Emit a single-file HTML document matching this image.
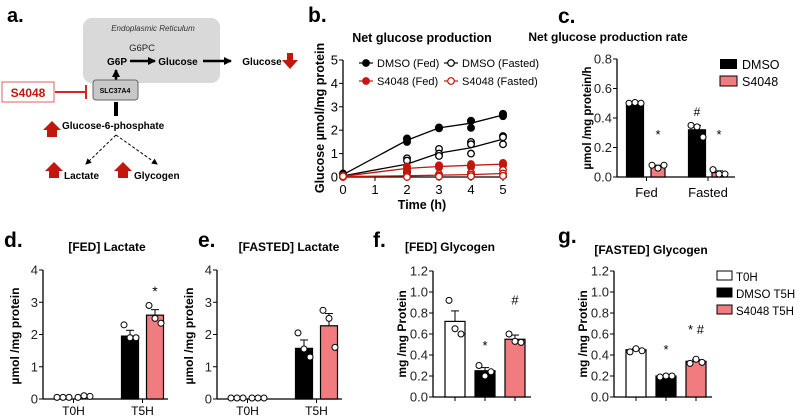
<!DOCTYPE html>
<html><head><meta charset="utf-8"><style>
body{margin:0;background:#fff}
svg{display:block;font-family:"Liberation Sans",sans-serif}
</style></head><body>
<svg id="fig" width="800" height="418" viewBox="0 0 800 418">
<defs>
<marker id="ah" markerUnits="userSpaceOnUse" markerWidth="8" markerHeight="8" refX="7" refY="4" orient="auto"><path d="M0,0 L8,4 L0,8 z" fill="#000"/></marker>
<marker id="ah2" markerUnits="userSpaceOnUse" markerWidth="6" markerHeight="6" refX="5" refY="3" orient="auto"><path d="M0,0 L6,3 L0,6 z" fill="#000"/></marker>
</defs>
<!-- panel a -->
<g>
<text x="7" y="22" font-size="20" font-weight="bold">a.</text>
<rect x="83" y="18" width="137" height="65" rx="9" fill="#d9d9d9"/>
<text x="153" y="31" font-size="8" font-style="italic" text-anchor="middle" fill="#333">Endoplasmic Reticulum</text>
<text x="142" y="51" font-size="9.5" text-anchor="middle" fill="#222">G6PC</text>
<text x="117" y="65" font-size="10" font-weight="bold" text-anchor="middle">G6P</text>
<line x1="130" y1="61" x2="155" y2="61" stroke="#000" stroke-width="2.5" marker-end="url(#ah)"/>
<text x="178" y="65" font-size="10" font-weight="bold" text-anchor="middle">Glucose</text>
<line x1="203" y1="61" x2="231" y2="61" stroke="#000" stroke-width="2.5" marker-end="url(#ah)"/>
<text x="262" y="65" font-size="10" font-weight="bold" text-anchor="middle">Glucose</text>
<path d="M287,53 h6 v7 h5 l-8,9 l-8,-9 h5z" fill="#c1170d"/>
<line x1="116" y1="80" x2="116" y2="70" stroke="#000" stroke-width="2.5" marker-end="url(#ah)"/>
<rect x="93" y="80" width="45" height="20" rx="3" fill="#c8c8c8" stroke="#666"/>
<text x="115" y="93" font-size="7" font-weight="bold" text-anchor="middle">SLC37A4</text>
<rect x="2" y="82" width="52" height="20" fill="#fff" stroke="#e06060"/>
<text x="28" y="97" font-size="12" font-weight="bold" text-anchor="middle" fill="#c1170d">S4048</text>
<line x1="55" y1="92" x2="86" y2="92" stroke="#d22" stroke-width="2"/>
<line x1="86" y1="85" x2="86" y2="99" stroke="#d22" stroke-width="2"/>
<line x1="116" y1="102" x2="116" y2="116" stroke="#000" stroke-width="4"/>
<path d="M43,130 l9,-9 l9,9 h-4 v7 h-10 v-7z" fill="#c1170d"/>
<text x="62" y="129" font-size="10" font-weight="bold">Glucose-6-phosphate</text>
<line x1="116" y1="135" x2="86" y2="164" stroke="#000" stroke-dasharray="3,2" marker-end="url(#ah2)"/>
<line x1="116" y1="135" x2="157" y2="164" stroke="#000" stroke-dasharray="3,2" marker-end="url(#ah2)"/>
<path d="M45,171 l9,-9 l9,9 h-4 v7 h-10 v-7z" fill="#c1170d"/>
<text x="64" y="179" font-size="10" font-weight="bold">Lactate</text>
<path d="M114,171 l9,-9 l9,9 h-4 v7 h-10 v-7z" fill="#c1170d"/>
<text x="134" y="179" font-size="10" font-weight="bold">Glycogen</text>
</g>
<g id="charts"></g>
</svg>
<script>
// panel b data
const bTimes=[0,2,3,4,5];
const bDmsoFed=[0.1,1.57,2.1,2.3,2.65];
const bDmsoFedPts=[[0.15,0.1,0.05],[1.65,1.6,1.5],[2.1,2.12,2.08],[2.4,2.4,2.1],[2.7,2.65,2.6]];
const bDmsoFast=[0.05,0.55,1.02,1.25,1.62];
const bDmsoFastPts=[[0.05,0.02,0.08],[0.8,0.7,0.2],[1.2,1.0,0.9],[1.5,1.4,1.0],[1.75,1.7,1.4]];
const bS48Fed=[0.03,0.37,0.45,0.5,0.55];
const bS48FedPts=[[0.03,0.05,0.02],[0.45,0.35,0.3],[0.5,0.45,0.4],[0.55,0.48,0.42],[0.6,0.55,0.5]];
const bS48Fast=[0.02,0.05,0.08,0.1,0.15];
const bS48FastPts=[[0.02,0.0,0.03],[0.08,0.03,0.0],[0.12,0.05,0.02],[0.18,0.1,0.03],[0.3,0.15,0.05]];
const bYTicks=[0,1,2,3,4,5];
const bXTicks=[0,1,2,3,4,5];
// panel c
const cCats=["Fed","Fasted"];
const cDmso=[0.5,0.32];const cDmsoErr=[0.005,0.03];const cDmsoPts=[[0.5,0.505,0.5],[0.35,0.34,0.27]];
const cS48=[0.07,0.03];const cS48Err=[0.01,0.012];const cS48Pts=[[0.08,0.06,0.08],[0.05,0.02,0.02]];
const cYTicks=[0,0.2,0.4,0.6,0.8];
// panel d
const dCats=["T0H","T5H"];
const dDmso=[0.05,1.95];const dDmsoErr=[0,0.18];const dDmsoPts=[[0.05,0.05,0.05],[2.3,1.9,1.9]];
const dS48=[0.07,2.6];const dS48Err=[0,0.17];const dS48Pts=[[0.05,0.1,0.08],[2.9,2.5,2.35]];
// panel e
const eDmso=[0.03,1.57];const eDmsoErr=[0,0.26];const eDmsoPts=[[0.03,0.03,0.03],[2.05,1.55,1.3]];
const eS48=[0.03,2.27];const eS48Err=[0,0.38];const eS48Pts=[[0.03,0.03,0.03],[2.75,2.5,1.6]];
const deYTicks=[0,1,2,3,4];
// panel f,g
const fgCats=["T0H","DMSO T5H","S4048 T5H"];
const fVals=[0.72,0.25,0.55];const fErr=[0.1,0.03,0.04];const fPts=[[0.92,0.65,0.6],[0.3,0.2,0.24],[0.6,0.53,0.52]];
const gVals=[0.45,0.2,0.34];const gErr=[0.01,0.005,0.015];const gPts=[[0.43,0.46,0.44],[0.19,0.2,0.2],[0.32,0.36,0.33]];
const fgYTicks=[0,0.2,0.4,0.6,0.8,1.0,1.2];

const NS="http://www.w3.org/2000/svg";
const root=document.getElementById('charts');
function el(tag,attrs,parent,txt){const e=document.createElementNS(NS,tag);for(const k in attrs)e.setAttribute(k,attrs[k]);if(txt!==undefined)e.textContent=txt;(parent||root).appendChild(e);return e;}
const PINK="#f07c80",RED="#c1170d";
const TICK=13;

function yAxis(g,x,y0,y1,vmax,ticks,fmt,xEnd){
  const sy=v=>y0-(v/vmax)*(y0-y1);
  el('line',{x1:x,y1:y0,x2:x,y2:y1,stroke:'#000','stroke-width':1.3},g);
  el('line',{x1:x,y1:y0,x2:xEnd,y2:y0,stroke:'#000','stroke-width':1.3},g);
  ticks.forEach(t=>{el('line',{x1:x-4,y1:sy(t),x2:x,y2:sy(t),stroke:'#000'},g);
    const tx=el('text',{x:x-5,y:sy(t)+4.5,'font-size':TICK,'text-anchor':'end',fill:'#222'},g,fmt(t));
    
    });
  return sy;
}
function pts(g,cx,vals,sy,fill,stroke,name){
  const offs=[-6,0,6];
  vals.forEach((v,i)=>{const c=el('circle',{cx:cx+offs[i],cy:sy(v),r:3,fill:fill,stroke:stroke,'stroke-width':1},g);
    
    });
}
function bar(g,cx,w,v,err,sy,fill,name){
  const r=el('rect',{x:cx-w/2,y:sy(v),width:w,height:sy(0)-sy(v),fill:fill,stroke:'#000','stroke-width':1.2},g);
  
  
  if(err>0){el('line',{x1:cx,y1:sy(v),x2:cx,y2:sy(v+err),stroke:'#000'},g);
    el('line',{x1:cx-4,y1:sy(v+err),x2:cx+4,y2:sy(v+err),stroke:'#000'},g);}
}
function label(g,x,y,t,size,bold,anchor,name,rot){
  const a={x:x,y:y,'font-size':size,'text-anchor':anchor||'middle'};if(bold)a['font-weight']='bold';
  if(rot)a.transform=`rotate(-90 ${x} ${y})`;
  const e=el('text',a,g,t);
  
  
  return e;
}

// ---- panel b
(function(){
  const g=el('g',{});
  
  
  label(g,308,22,'b.',21,true,'start','panel-b-label');
  label(g,422,42,'Net glucose production',12.5,true,'middle','panel-b-title');
  const x0=343,x5=503,y0=177,y5=60;
  const sx=t=>x0+t/5*(x5-x0);const sy=v=>y0-v/5*(y0-y5);
  el('line',{x1:x0,y1:y0,x2:x0,y2:y5,stroke:'#000','stroke-width':1.3},g);
  el('line',{x1:x0,y1:y0,x2:x5+4,y2:y0,stroke:'#000','stroke-width':1.3},g);
  bYTicks.forEach(t=>{el('line',{x1:x0-4,y1:sy(t),x2:x0,y2:sy(t),stroke:'#000'},g);
    const e=el('text',{x:x0-5,y:sy(t)+4.5,'font-size':TICK,'text-anchor':'end'},g,t);
    
    });
  bXTicks.forEach(t=>{el('line',{x1:sx(t),y1:y0,x2:sx(t),y2:y0+4,stroke:'#000'},g);
    const e=el('text',{x:sx(t),y:y0+17,'font-size':TICK,'text-anchor':'middle'},g,t);
    
    });
  label(g,422,209,'Time (h)',12.5,true,'middle','x-axis-title');
  label(g,324,118,'Glucose µmol/mg protein',12.5,true,'middle','y-axis-title',true);
  const series=[[bDmsoFed,bDmsoFedPts,'#000','#000','dmso-fed'],[bDmsoFast,bDmsoFastPts,'#000','#fff','dmso-fasted'],[bS48Fed,bS48FedPts,RED,RED,'s4048-fed'],[bS48Fast,bS48FastPts,RED,'#fff','s4048-fasted']];
  series.forEach(([m,p,c,f,n])=>{
    const l=el('polyline',{points:bTimes.map((t,i)=>sx(t)+','+sy(m[i])).join(' '),fill:'none',stroke:c,'stroke-width':1.3},g);
    
    
    p.forEach((arr,i)=>arr.forEach(v=>{const c2=el('circle',{cx:sx(bTimes[i]),cy:sy(v),r:3.3,fill:f,stroke:c,'stroke-width':1.3},g);
      
      }));
  });
  const leg=[[366,63,'#000','#000','DMSO (Fed)'],[366,81,RED,RED,'S4048 (Fed)'],[451,63,'#000','#fff','DMSO (Fasted)'],[451,81,RED,'#fff','S4048 (Fasted)']];
  leg.forEach(([x,y,c,f,t])=>{el('line',{x1:x-7,y1:y,x2:x+7,y2:y,stroke:c,'stroke-width':1.2},g);
    el('circle',{cx:x,cy:y,r:3.3,fill:f,stroke:c,'stroke-width':1.2},g);
    label(g,x+11,y+4,t,11,false,'start','legend-entry');});
})();

// ---- panel c
(function(){
  const g=el('g',{});
  
  
  label(g,558,23,'c.',21,true,'start','panel-c-label');
  label(g,608,41,'Net glucose production rate',12,true,'middle','panel-c-title');
  const sy=yAxis(g,617,177,59,0.8,cYTicks,t=>t.toFixed(1),735);
  label(g,591,118,'µmol /mg protein/h',11.5,true,'middle','y-axis-title',true);
  const cx=[[635,658],[697,719]];
  cCats.forEach((c,i)=>{
    bar(g,cx[i][0],17,cDmso[i],cDmsoErr[i],sy,'#000','bar-dmso-'+c.toLowerCase());
    pts(g,cx[i][0],cDmsoPts[i],sy,'#fff','#000','dmso-point');
    bar(g,cx[i][1],14,cS48[i],cS48Err[i],sy,PINK,'bar-s4048-'+c.toLowerCase());
    pts(g,cx[i][1],cS48Pts[i],sy,'#fff','#000','s4048-point');
    el('line',{x1:(cx[i][0]+cx[i][1])/2,y1:177,x2:(cx[i][0]+cx[i][1])/2,y2:181,stroke:'#000'},g);
    label(g,(cx[i][0]+cx[i][1])/2,197,c,13,false,'middle','x-tick-label');
    label(g,cx[i][1],139,'*',13,false,'middle','significance-star');
  });
  label(g,697,116,'#',12,false,'middle','significance-hash');
  el('rect',{x:720,y:59,width:17,height:10,fill:'#000'},g);
  label(g,742,69,'DMSO',12.5,false,'start','legend-entry');
  el('rect',{x:720,y:76,width:17,height:10,fill:PINK,stroke:'#000'},g);
  label(g,742,86,'S4048',12.5,false,'start','legend-entry');
})();

// ---- panels d, e
function lactate(cfg){
  const g=el('g',{});
  
  
  label(g,cfg.lx,247,cfg.letter,21,true,'start','panel-label');
  label(g,cfg.tx,251,cfg.title,12,true,'middle','panel-title');
  const sy=yAxis(g,cfg.ax,399,270,4,deYTicks,t=>t,cfg.ax+125);
  label(g,cfg.ax-24,336,'µmol /mg protein',12,true,'middle','y-axis-title',true);
  const cx=[[cfg.ax+20,cfg.ax+41],[cfg.ax+87,cfg.ax+112]];
  dCats.forEach((c,i)=>{
    if(i===1){bar(g,cx[i][0],17,cfg.dm[i],cfg.dmE[i],sy,'#000','bar-dmso-'+c);bar(g,cx[i][1],17,cfg.s[i],cfg.sE[i],sy,PINK,'bar-s4048-'+c);}
    pts(g,cx[i][0],cfg.dmP[i],sy,'#fff','#000','dmso-point');
    pts(g,cx[i][1],cfg.sP[i],sy,'#fff','#000','s4048-point');
    const m=(cx[i][0]+cx[i][1])/2;
    el('line',{x1:m,y1:399,x2:m,y2:403,stroke:'#000'},g);
    label(g,m,415,c,12,false,'middle','x-tick-label');
  });
  if(cfg.star)label(g,cx[1][1],296,'*',14,false,'middle','significance-star');
}
lactate({name:'panel-d-bar-chart',letter:'d.',lx:4,tx:107,title:'[FED] Lactate',ax:43,dm:dDmso,dmE:dDmsoErr,dmP:dDmsoPts,s:dS48,sE:dS48Err,sP:dS48Pts,star:true});
lactate({name:'panel-e-bar-chart',letter:'e.',lx:198,tx:289,title:'[FASTED] Lactate',ax:217,dm:eDmso,dmE:eDmsoErr,dmP:eDmsoPts,s:eS48,sE:eS48Err,sP:eS48Pts,star:false});

// ---- panels f, g
function glyco(cfg){
  const g=el('g',{});
  
  
  label(g,cfg.lx,cfg.ly,cfg.letter,21,true,'start','panel-label');
  label(g,cfg.tx,cfg.ty,cfg.title,12,true,'middle','panel-title');
  const sy=yAxis(g,cfg.ax,397,271,1.2,fgYTicks,t=>t.toFixed(1),cfg.ax+98);
  label(g,cfg.ax-27,334,'mg /mg Protein',12,true,'middle','y-axis-title',true);
  const fills=['#fff','#000',PINK];
  fgCats.forEach((c,i)=>{
    const cx=cfg.ax+22+i*30;
    bar(g,cx,20,cfg.v[i],cfg.e[i],sy,fills[i],'bar-'+c.toLowerCase().replace(/ /g,'-'));
    pts(g,cx,cfg.p[i],sy,'#fff','#000','data-point');
    el('line',{x1:cx,y1:397,x2:cx,y2:401,stroke:'#000'},g);
  });
  cfg.marks.forEach(([i,t,v])=>label(g,cfg.ax+22+i*30,sy(v),t,13,false,'middle','significance-mark'));
}
glyco({name:'panel-f-bar-chart',letter:'f.',lx:373,ly:247,tx:450,ty:251,title:'[FED] Glycogen',ax:433,v:fVals,e:fErr,p:fPts,marks:[[1,'*',0.45],[2,'#',0.88]]});
glyco({name:'panel-g-bar-chart',letter:'g.',lx:558,ly:243,tx:651,ty:254,title:'[FASTED] Glycogen',ax:614,v:gVals,e:gErr,p:gPts,marks:[[1,'*',0.41],[2,'* #',0.6]]});
(function(){
  const g=el('g',{});
  
  
  const items=[['#fff','T0H',276],['#000','DMSO T5H',293],[PINK,'S4048 T5H',310]];
  items.forEach(([f,t,y])=>{el('rect',{x:717,y:y-5,width:15,height:9,fill:f,stroke:'#000'},g);
    label(g,736,y+5,t,11.5,false,'start','legend-entry');});
})();
</script>
</body></html>
